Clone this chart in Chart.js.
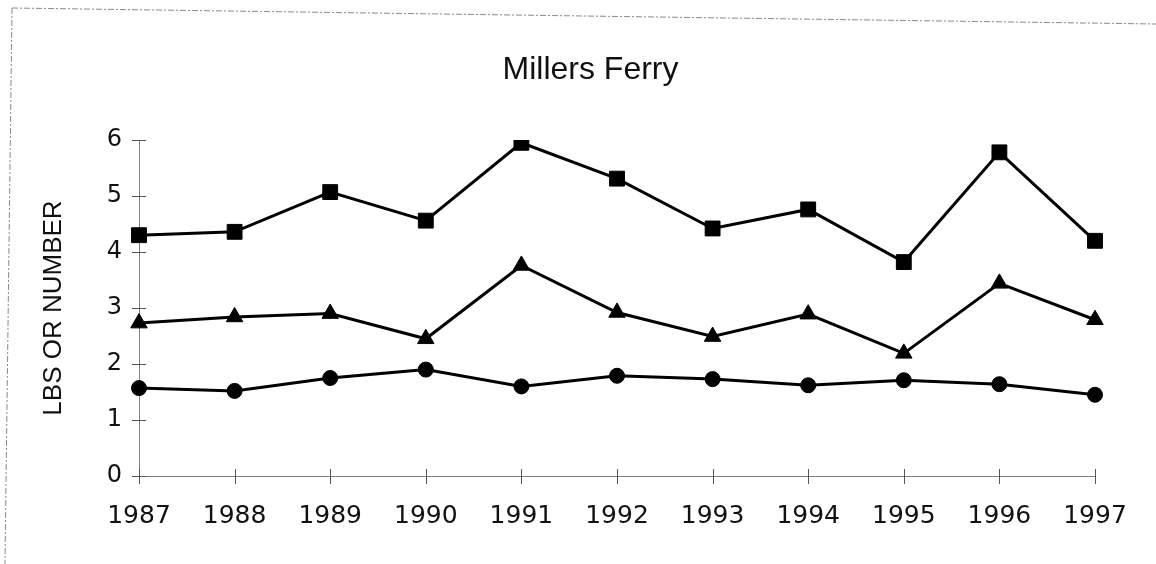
<!DOCTYPE html>
<html>
<head>
<meta charset="utf-8">
<script src="https://cdn.jsdelivr.net/npm/chart.js@4.4.1/dist/chart.umd.min.js"></script>
<style>
  html, body { margin: 0; padding: 0; background: #ffffff; }
  #wrap { width: 1156px; height: 564px; position: relative; }
</style>
</head>
<body>
<div id="wrap"><canvas id="c" width="1156" height="564"></canvas></div>
<script>
// ---- data ----
const years = ['1987','1988','1989','1990','1991','1992','1993','1994','1995','1996','1997'];
const squareSeries   = [4.30, 4.36, 5.07, 4.56, 5.95, 5.31, 4.42, 4.76, 3.82, 5.78, 4.20];
const triangleSeries = [2.73, 2.84, 2.90, 2.45, 3.76, 2.92, 2.49, 2.89, 2.19, 3.44, 2.79];
const circleSeries   = [1.57, 1.52, 1.75, 1.90, 1.60, 1.79, 1.73, 1.62, 1.71, 1.64, 1.45];
const yTickValues = [0, 1, 2, 3, 4, 5, 6];
const chartTitle = 'Millers Ferry';
const yTitle = 'LBS OR NUMBER';

// frame border (scanned page edge)
const decorPlugin = {
  id: 'decor',
  beforeDraw(chart) {
    const ctx = chart.ctx;
    ctx.save();
    ctx.fillStyle = '#ffffff';
    ctx.fillRect(0, 0, chart.width, chart.height);
    ctx.strokeStyle = '#8a8a8a';
    ctx.lineWidth = 1;
    ctx.setLineDash([6, 2, 2, 2]);
    ctx.beginPath();
    ctx.moveTo(12, 8); ctx.lineTo(1156, 24);
    ctx.moveTo(12, 8); ctx.lineTo(5, 564);
    ctx.stroke();
    ctx.restore();
  }
};
// cross-shaped tick marks on both axes
const crossTicks = {
  id: 'crossTicks',
  beforeDatasetsDraw(chart) {
    const ctx = chart.ctx;
    const xs = chart.scales.x, ys = chart.scales.y;
    const ax = xs.getPixelForValue(0);
    const ay = ys.getPixelForValue(0);
    ctx.save();
    ctx.strokeStyle = '#555555';
    ctx.lineWidth = 1;
    ctx.beginPath();
    yTickValues.forEach(v => {
      const py = Math.round(ys.getPixelForValue(v)) + 0.5;
      ctx.moveTo(ax - 7, py); ctx.lineTo(ax + 7, py);
    });
    years.forEach((_, i) => {
      const px = Math.round(xs.getPixelForValue(i)) + 0.5;
      ctx.moveTo(px, ay - 7); ctx.lineTo(px, ay + 8);
    });
    ctx.stroke();
    ctx.restore();
  }
};

function lineSet(data, style, radius) {
  return {
    data: data,
    yAxisID: 'y',
    borderColor: '#000000',
    backgroundColor: '#000000',
    borderWidth: 3,
    pointStyle: style,
    pointRadius: radius,
    pointHoverRadius: radius,
    pointBorderWidth: 1,
    pointBackgroundColor: '#000000',
    pointBorderColor: '#000000',
    tension: 0,
    fill: false
  };
}

new Chart(document.getElementById('c'), {
  type: 'line',
  data: {
    labels: years,
    datasets: [
      lineSet(squareSeries, 'rect', 10.5),
      lineSet(triangleSeries, 'triangle', 9.5),
      lineSet(circleSeries, 'circle', 7.5)
    ]
  },
  plugins: [decorPlugin, crossTicks],
  options: {
    responsive: false,
    animation: false,
    devicePixelRatio: 1,
    layout: { padding: { left: 62, right: 37, top: 0, bottom: 0 } },
    plugins: {
      legend: { display: false },
      tooltip: { enabled: false },
      title: {
        display: true,
        text: chartTitle,
        color: '#111111',
        font: { family: '"Liberation Sans", Arial, sans-serif', size: 32, weight: 'normal', lineHeight: 1.2 },
        padding: { top: 51, bottom: 50.6 }
      }
    },
    scales: {
      x: {
        type: 'category',
        offset: false,
        grid: { display: true, drawOnChartArea: false, drawTicks: false },
        border: { display: true, color: '#808080', width: 1, dash: [5, 3] },
        ticks: {
          color: '#111111',
          font: { family: '"DejaVu Sans", sans-serif', size: 25 },
          padding: 25,
          maxRotation: 0,
          autoSkip: false
        },
        afterFit(scale) { scale.height = 88; }
      },
      y: {
        position: 'left',
        min: 0,
        max: 6,
        grid: { display: true, drawOnChartArea: false, drawTicks: false },
        border: { display: true, color: '#808080', width: 1, dash: [5, 3] },
        ticks: {
          stepSize: 1,
          color: '#111111',
          font: { family: '"DejaVu Sans", sans-serif', size: 24 },
          padding: 17
        },
        title: {
          display: true,
          text: yTitle,
          color: '#111111',
          font: { family: '"Liberation Sans", Arial, sans-serif', size: 26, weight: 'normal', lineHeight: 1.2 },
          padding: { top: -23.6, bottom: 0 }
        },
        afterFit(scale) { scale.width = 77; }
      },
      yRight: {
        position: 'right',
        display: true,
        min: 0,
        max: 6,
        grid: { display: false, drawTicks: false },
        border: { display: false },
        ticks: { display: false },
        afterFit(scale) { scale.width = 24; }
      }
    }
  }
});
</script>
</body>
</html>
